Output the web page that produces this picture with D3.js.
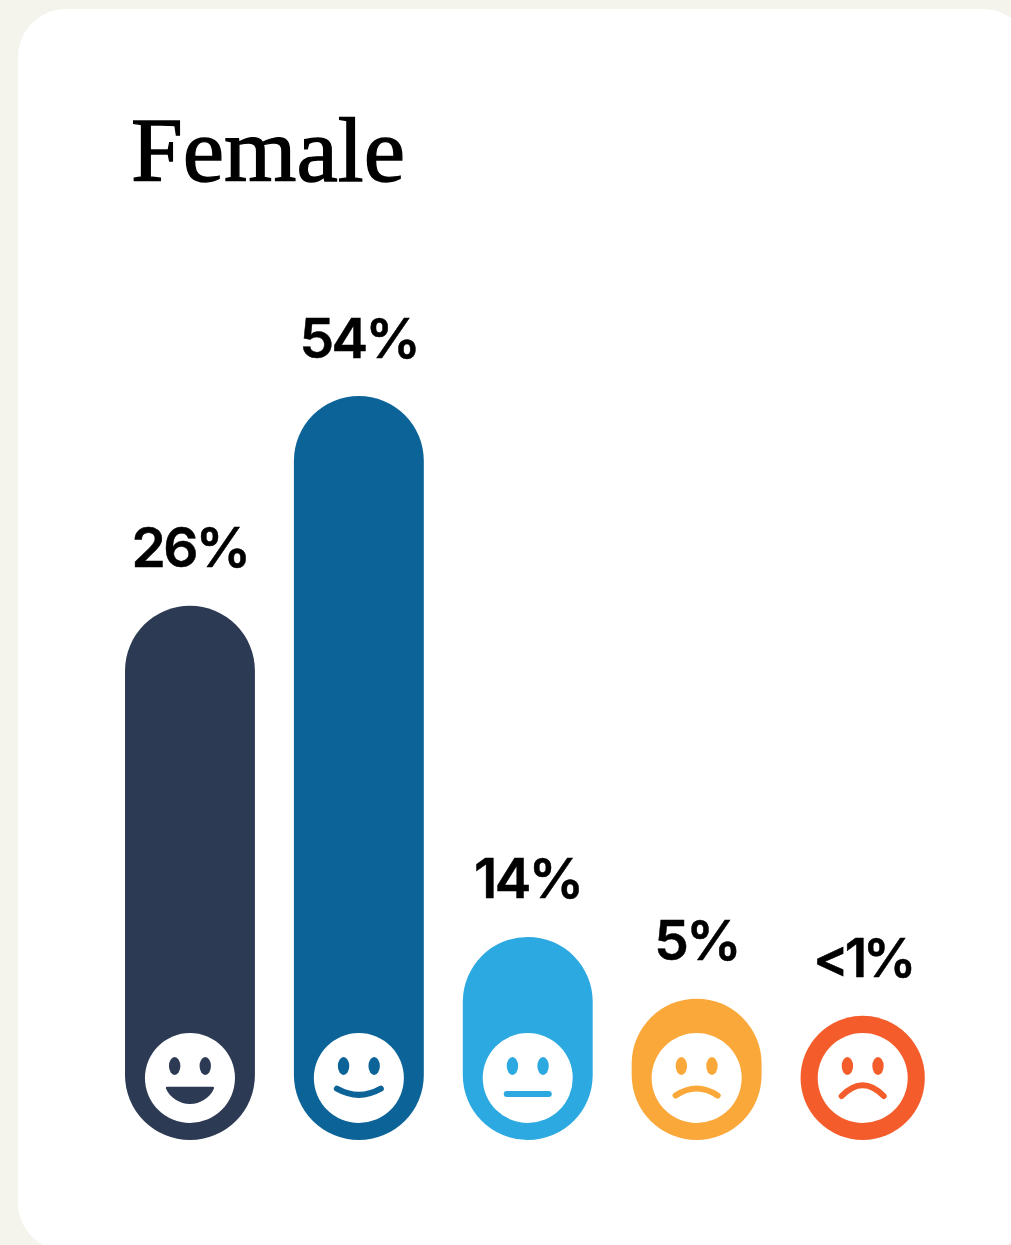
<!DOCTYPE html>
<html><head><meta charset="utf-8">
<script src="https://cdn.jsdelivr.net/npm/d3@7"></script>
<style>html,body{margin:0;padding:0;background:#f4f4ec;overflow:hidden}svg{display:block}</style>
</head><body><div id="c"></div>
<script>
const title = "Female";
const categories = ["Very happy","Happy","Neutral","Unhappy","Very unhappy"];
const labels = ["26%","54%","14%","5%","<1%"];
// bar lengths as drawn in the picture, relative to the tallest bar
const lengths = [71.8,100,27.3,19,16.7];
const colors = ["#2c3a53","#0c6398","#2ca9e1","#fba83b","#f45d2b"];
const mouths = ["open","smile","flat","frown","deepfrown"];

const W=1011,H=1245;
const svg=d3.select("#c").append("svg").attr("width",W).attr("height",H);
svg.append("rect").attr("width",W).attr("height",H).attr("fill","#f4f4ec");
svg.append("rect").attr("x",18).attr("y",9).attr("width",1013).attr("height",1242).attr("rx",48).attr("fill","#fff");
svg.append("text").attr("x",131).attr("y",181).attr("font-family","Liberation Serif").attr("font-size",92)
  .attr("textLength",274).attr("lengthAdjust","spacingAndGlyphs").attr("fill","#000")
  .attr("stroke","#000").attr("stroke-width",1.3).text(title);

const x=d3.scaleBand().domain(categories).range([125,930.5]).paddingInner(39/169);
const y=d3.scaleLinear().domain([0,100]).range([1140,396]);
const maxW=x.bandwidth();
const rows=categories.map((c,i)=>({c,label:labels[i],len:lengths[i],color:colors[i],mouth:mouths[i]}));

const g=svg.selectAll("g.bar").data(rows).join("g").attr("class","bar");
const wOf=d=>Math.min(maxW,y(0)-y(d.len));
g.append("rect").attr("x",d=>x(d.c)).attr("y",d=>y(d.len)).attr("width",wOf)
  .attr("height",d=>y(0)-y(d.len)).attr("rx",d=>wOf(d)/2).attr("fill",d=>d.color);
g.append("text").attr("x",d=>x(d.c)+wOf(d)/2).attr("y",d=>y(d.len)-38.5).attr("text-anchor","middle")
  .attr("font-family","Inter").attr("font-weight",600)
  .attr("font-size",d=>d.label.startsWith("<")?53:55)
  .attr("letter-spacing",d=>d.label.startsWith("<")?-4:-2.6)
  .attr("stroke","#000").attr("stroke-width",0.5)
  .attr("fill","#000").text(d=>d.label);

const mouthPath={
  smile:"M-22,10.7Q0,23,22,10.7",
  flat:"M-21,16H21",
  frown:"M-21,17.5Q0,3.5,21,17.5",
  deepfrown:"M-21,18Q0,-3.5,21,18"
};
const face=g.append("g").attr("transform",d=>`translate(${x(d.c)+wOf(d)/2},1078)`);
face.append("circle").attr("r",45).attr("fill","#fff");
[-15.3,15.3].forEach(ex=>face.append("ellipse").attr("cx",ex).attr("cy",-12).attr("rx",5.7).attr("ry",9).attr("fill",d=>d.color));
face.filter(d=>d.mouth==="open").append("path").attr("d","M-23,8.7H23Q24.5,8.7,24,10.5C20,20,10,26,0,26C-10,26,-20,20,-24,10.5Q-24.5,8.7,-23,8.7Z").attr("fill",d=>d.color);
face.filter(d=>d.mouth!=="open").append("path").attr("d",d=>mouthPath[d.mouth]).attr("fill","none")
  .attr("stroke",d=>d.color).attr("stroke-width",6).attr("stroke-linecap","round");
</script></body></html>
